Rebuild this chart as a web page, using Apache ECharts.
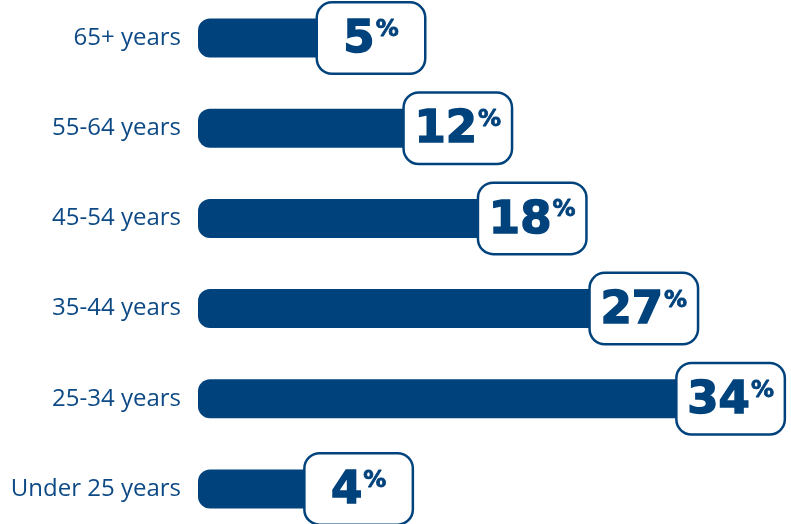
<!DOCTYPE html>
<html><head><meta charset="utf-8">
<script src="https://cdn.jsdelivr.net/npm/echarts@6/dist/echarts.min.js"></script>
<style>html,body{margin:0;padding:0;background:#fff;overflow:hidden}#c{width:791px;height:541px;margin-top:-7px}</style>
</head><body><div id="c"></div>
<script>
const categories = ['65+ years','55-64 years','45-54 years','35-44 years','25-34 years','Under 25 years'];
const values = [5, 12, 18, 27, 34, 4];

const blue = '#00427c';
const pxPerUnit = 12.4;
const stub = 111 / pxPerUnit; // visual lead-in of each bar before value 0 (layout only)
const chart = echarts.init(document.getElementById('c'));
chart.setOption({
  animation: false,
  grid: { left: 198, top: 0, bottom: 0, width: 48 * pxPerUnit, outerBoundsMode: 'none' },
  xAxis: { type: 'value', min: 0, max: 48, show: false },
  yAxis: {
    type: 'category', data: categories, inverse: true,
    axisLine: { show: false }, axisTick: { show: false }, splitLine: { show: false },
    axisLabel: { color: '#0d4a85', fontSize: 24, fontFamily: 'Open Sans', margin: 17 }
  },
  series: [{
    type: 'bar', stack: 'a', data: categories.map(() => stub), barWidth: 39, silent: true,
    itemStyle: { color: blue, borderRadius: [12, 0, 0, 12] }
  }, {
    type: 'bar', stack: 'a', data: values, barWidth: 39,
    itemStyle: { color: blue },
    label: {
      show: true, position: ['100%', '50%'], align: 'center', verticalAlign: 'middle',
      width: 106, padding: [11, 0, 6, 0], backgroundColor: '#fff', borderColor: blue, borderWidth: 2.5,
      borderRadius: 14,
      formatter: p => '{n|' + p.value + '}{p|%}',
      rich: {
        n: { fontSize: 45, fontWeight: 'bold', fontFamily: 'DejaVu Sans', color: blue, lineHeight: 52, verticalAlign: 'middle', textBorderColor: blue, textBorderWidth: 1.5 },
        p: { fontSize: 23, fontWeight: 'bold', fontFamily: 'DejaVu Sans', color: blue, lineHeight: 30, verticalAlign: 'top', padding: [4, 0, 0, 1], textBorderColor: blue, textBorderWidth: 0.8 }
      }
    }
  }]
});
</script></body></html>
